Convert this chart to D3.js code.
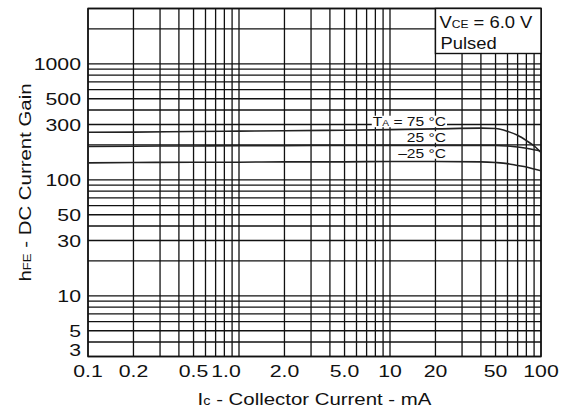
<!DOCTYPE html>
<html>
<head>
<meta charset="utf-8">
<script src="https://cdn.jsdelivr.net/npm/d3@7"></script>
<style>
  body { margin: 0; background: #fff; }
  svg { display: block; }
  text { font-family: "Liberation Sans", Arial, sans-serif; fill: #111; }
</style>
</head>
<body>
<div id="chart"></div>
<script>
const icPoints = [0.1, 0.2, 0.5, 1, 2, 5, 10, 20, 40, 50, 60, 70, 80, 90, 100];
// hFE for each temperature
const hfe75 = [257, 258, 261, 263, 265, 268, 271, 275, 279, 277, 262, 242, 218, 196, 172];
const hfe25 = [194, 195, 196, 197, 197, 198, 198, 198, 198, 198, 196, 192, 187, 182, 177];
const hfeMinus25 = [140, 141, 142, 142, 143, 143, 144, 144, 143, 141, 138, 133, 129, 124, 120];

// tick labels
const xTicks = [0.1, 0.2, 0.5, 1, 2, 5, 10, 20, 50, 100];
const xTickText = ["0.1", "0.2", "0.5", "1.0", "2.0", "5.0", "10", "20", "50", "100"];
const yTicks = [3, 5, 10, 30, 50, 100, 300, 500, 1000];

// grid lines of the log paper
const xGrid = [0.1, 0.2, 0.3, 0.4, 0.5, 0.6, 0.7, 0.8, 0.9,
  1, 2, 3, 4, 5, 6, 7, 8, 9,
  10, 20, 30, 40, 50, 60, 70, 80, 90, 100];
const yGrid = [3, 4, 5, 6, 7, 8, 9,
  10, 20, 30, 40, 50, 60, 70, 80, 90,
  100, 200, 300, 400, 500, 600, 700, 800, 900,
  1000, 2000, 3000];

const width = 567, height = 410;
const pLeft = 88, pRight = 541, pTop = 8.5, pBottom = 356.5;

const svg = d3.select("#chart").append("svg")
  .attr("width", width)
  .attr("height", height);

const x = d3.scaleLog().domain([0.1, 100]).range([pLeft, pRight]);
const y = d3.scaleLog().domain([3, 3000]).range([pBottom, pTop]);

// stretched text, the scan uses a wide grotesque
function label(parent, px, py, anchor, size, sx, rot) {
  return parent.append("text")
    .attr("transform", `translate(${px},${py}) rotate(${rot || 0}) scale(${sx},1)`)
    .attr("text-anchor", anchor)
    .style("font-size", size + "px");
}

// layers
const gridG = svg.append("g").attr("stroke", "#111").attr("stroke-width", 1.3);
const bgG = svg.append("g");
const curveG = svg.append("g");
const textG = svg.append("g");

// grid
gridG.selectAll(".vx")
  .data(xGrid)
  .enter().append("line")
  .attr("x1", d => x(d)).attr("x2", d => x(d))
  .attr("y1", pTop).attr("y2", pBottom);
gridG.selectAll(".hy")
  .data(yGrid)
  .enter().append("line")
  .attr("y1", d => y(d)).attr("y2", d => y(d))
  .attr("x1", pLeft).attr("x2", pRight);
gridG.append("rect")
  .attr("x", pLeft).attr("y", pTop)
  .attr("width", pRight - pLeft).attr("height", pBottom - pTop)
  .attr("fill", "none").attr("stroke-width", 1.5);

// tick labels
xTicks.forEach((v, i) => {
  const shift = v === 1 ? -13 : 0;
  label(textG, x(v) + shift, 377, "middle", 17, 1.25).text(xTickText[i]);
});
yTicks.forEach(v => {
  const cy = Math.min(y(v), pBottom - 6.5);
  label(textG, 81, cy + 6, "end", 17, 1.25).text(v);
});

// axis titles
const xt = label(textG, (pLeft + pRight) / 2, 405, "middle", 17, 1.2);
xt.append("tspan").text("I");
xt.append("tspan").style("font-size", "12px").text("c");
xt.append("tspan").text(" - Collector Current - mA");

const yt = label(textG, 31, (pTop + pBottom) / 2, "middle", 17, 1.2, -90);
yt.append("tspan").text("h");
yt.append("tspan").style("font-size", "11px").text("FE");
yt.append("tspan").text(" - DC Current Gain");

// curves
const line = d3.line()
  .x(d => x(d[0]))
  .y(d => y(d[1]))
  .curve(d3.curveMonotoneX);
[hfe75, hfe25, hfeMinus25].forEach(series => {
  curveG.append("path")
    .datum(icPoints.map((ic, i) => [ic, series[i]]))
    .attr("d", line)
    .attr("fill", "none")
    .attr("stroke", "#222")
    .attr("stroke-width", 1.6);
});

// curve labels with white backing over the grid
const lblX = 446, lblSx = 1.2;
const curveLabels = [
  { parts: [["T", 13], ["A", 8.5], [" = 75 °C", 13]], yb: 126 },
  { parts: [["25 °C", 13]], yb: 141.5 },
  { parts: [["\u201325 °C", 13]], yb: 157.5 }
];
curveLabels.forEach(c => {
  const t = label(textG, lblX, c.yb, "end", 13, lblSx);
  c.parts.forEach(p => t.append("tspan").style("font-size", p[1] + "px").text(p[0]));
  const b = t.node().getBBox();
  bgG.append("rect")
    .attr("x", lblX + b.x * lblSx - 1)
    .attr("y", c.yb + b.y + 1.5)
    .attr("width", b.width * lblSx + 2)
    .attr("height", b.height - 3)
    .attr("fill", "#fff");
});

// condition box top right
const bx = x(20);
textG.append("rect")
  .attr("x", bx).attr("y", pTop)
  .attr("width", pRight - bx).attr("height", 53.5 - pTop)
  .attr("fill", "#fff").attr("stroke", "#111").attr("stroke-width", 1.4);
const v1 = label(textG, bx + 4, 27.5, "start", 16, 1.15);
v1.append("tspan").text("V");
v1.append("tspan").style("font-size", "10.5px").text("CE");
v1.append("tspan").text(" = 6.0 V");
label(textG, bx + 5, 48.5, "start", 16, 1.15).text("Pulsed");
</script>
</body>
</html>
